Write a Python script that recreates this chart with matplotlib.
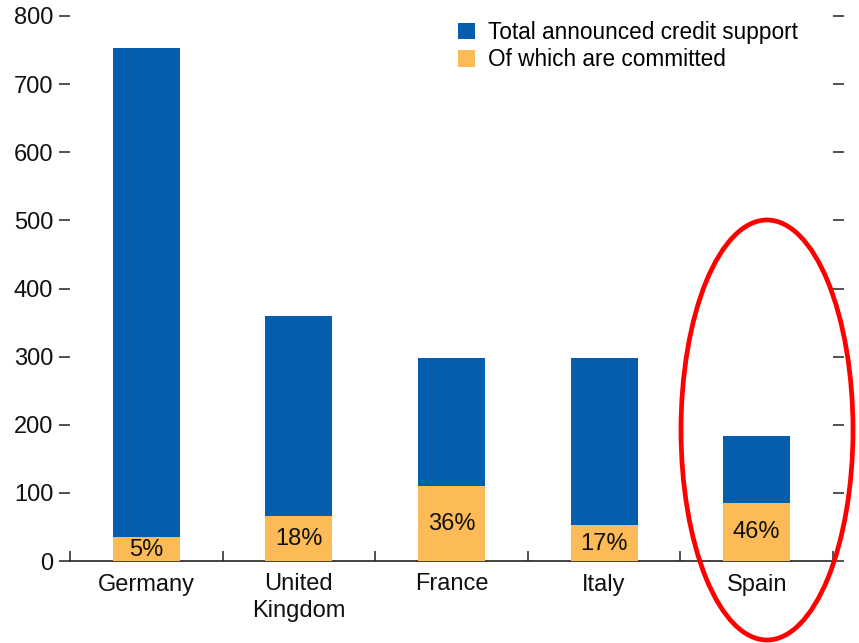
import matplotlib
matplotlib.use("Agg")
import matplotlib.pyplot as plt
from matplotlib.patches import Ellipse
import numpy as np

plt.rcParams['font.family'] = ['Liberation Sans', 'DejaVu Sans']

countries = ["Germany", "United\nKingdom", "France", "Italy", "Spain"]
total_support = [753, 360, 298, 298, 184]
committed = [35, 66, 110, 53, 85]
pct_labels = ["5%", "18%", "36%", "17%", "46%"]
yticks = [0, 100, 200, 300, 400, 500, 600, 700, 800]

BLUE = "#045EAE"
ORANGE = "#FCBB57"
FS = 17

fig = plt.figure(figsize=(8.59, 6.43), dpi=100)
W, H = 859, 643
ax = fig.add_axes([70 / W, (H - 561) / H, (833 - 70) / W, (561 - 16) / H])

x = np.arange(len(countries))
bw = 0.44
ax.bar(x, total_support, width=bw, color=BLUE, label="Total announced credit support", zorder=2)
ax.bar(x, committed, width=bw, color=ORANGE, label="Of which are committed", zorder=3)

for xi, c, lab in zip(x, committed, pct_labels):
    ax.text(xi, c / 2 if c > 60 else c / 2 - 2, lab, ha="center", va="center",
            fontsize=FS, color="#111111", zorder=4)

ax.set_xlim(-0.5, len(countries) - 0.5)
ax.set_ylim(0, 800)

for s in ["top", "left", "right"]:
    ax.spines[s].set_visible(False)
ax.spines["bottom"].set_color("#222222")
ax.spines["bottom"].set_linewidth(1.2)

ax.set_yticks(yticks)
ax.set_yticklabels([str(v) for v in yticks], fontsize=FS, color="#111111")
ax.tick_params(axis="y", which="major", direction="out", length=8, width=1.2,
               color="#333333", pad=4, right=True, labelright=False)

ax.set_xticks(x)
ax.set_xticklabels(countries, fontsize=FS, color="#111111", linespacing=1.25)
ax.tick_params(axis="x", which="major", length=0, pad=9)
ax.set_xticks(np.arange(-0.5, len(countries)), minor=True)
ax.tick_params(axis="x", which="minor", direction="in", length=7, width=1.2, color="#333333")

leg = ax.legend(loc="upper right", bbox_to_anchor=(0.966, 1.008), frameon=False,
                fontsize=16.3, handlelength=0.75, handleheight=0.75,
                handletextpad=0.6, labelspacing=0.2, borderaxespad=0)

ell = Ellipse((767 / W, (H - 430) / H), 172 / W, 420 / H, transform=fig.transFigure,
              fill=False, edgecolor="#FF0000", linewidth=3.4, clip_on=False, zorder=10)
fig.patches.append(ell)

fig.savefig("out.png", dpi=100)
